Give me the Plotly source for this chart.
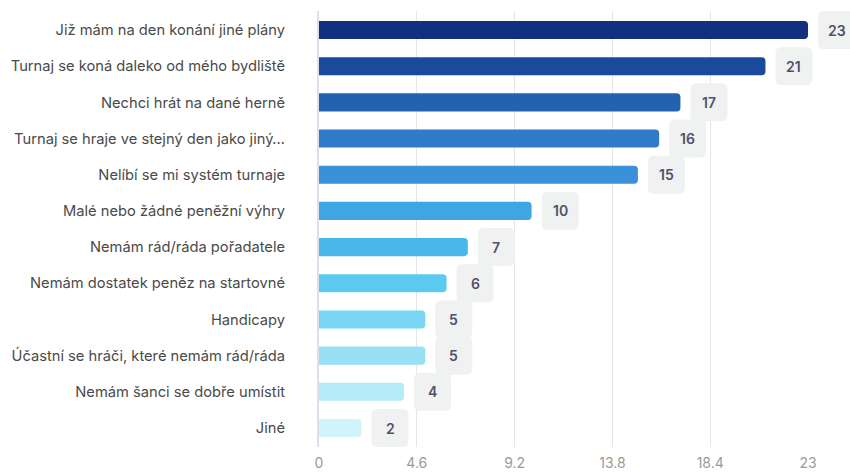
import plotly.graph_objects as go

categories = [
    "Již mám na den konání jiné plány",
    "Turnaj se koná daleko od mého bydliště",
    "Nechci hrát na dané herně",
    "Turnaj se hraje ve stejný den jako jiný…",
    "Nelíbí se mi systém turnaje",
    "Malé nebo žádné peněžní výhry",
    "Nemám rád/ráda pořadatele",
    "Nemám dostatek peněz na startovné",
    "Handicapy",
    "Účastní se hráči, které nemám rád/ráda",
    "Nemám šanci se dobře umístit",
    "Jiné",
]
values = [23, 21, 17, 16, 15, 10, 7, 6, 5, 5, 4, 2]
colors = ["#132f80", "#1a4a9c", "#2263b0", "#2f7bc8", "#3a90d9", "#3ea6e2",
          "#48b8ea", "#5ccaf0", "#78d6f2", "#98e1f5", "#b5ebf7", "#d0f3fa"]
tick_vals = [0, 4.6, 9.2, 13.8, 18.4, 23]
tick_text = ["0", "4.6", "9.2", "13.8", "18.4", "23"]
x_max = 23

fig = go.Figure()
fig.add_trace(go.Bar(
    x=values, y=categories, orientation="h",
    marker=dict(color=colors, cornerradius=4, line=dict(width=0)),
    width=0.5, hoverinfo="skip",
))

# rounded value boxes
gap, bw, bh, r = 10, 37, 38, 6
path = (f"M {gap+r},{-bh/2} L {gap+bw-r},{-bh/2} Q {gap+bw},{-bh/2} {gap+bw},{-bh/2+r} "
        f"L {gap+bw},{bh/2-r} Q {gap+bw},{bh/2} {gap+bw-r},{bh/2} "
        f"L {gap+r},{bh/2} Q {gap},{bh/2} {gap},{bh/2-r} "
        f"L {gap},{-bh/2+r} Q {gap},{-bh/2} {gap+r},{-bh/2} Z")
shapes = []
annotations = []
for c, v in zip(categories, values):
    shapes.append(dict(
        type="path", xref="paper", yref="y",
        xsizemode="pixel", ysizemode="pixel",
        xanchor=v / x_max, yanchor=c, path=path,
        fillcolor="#f0f1f1", line=dict(width=0), layer="above",
    ))
    annotations.append(dict(
        x=v / x_max, y=c, xref="paper", yref="y", text=str(v),
        showarrow=False, xshift=gap + bw / 2, xanchor="center",
        font=dict(family="Inter", size=14, color="#50506a", weight=600),
    ))

fig.update_layout(
    width=850, height=472,
    margin=dict(l=319, r=42, t=11, b=25),
    paper_bgcolor="white", plot_bgcolor="white",
    showlegend=False, bargap=0.5,
    shapes=shapes, annotations=annotations,
    font=dict(family="Inter"),
)
fig.update_xaxes(
    range=[0, x_max], tickvals=tick_vals, ticktext=tick_text,
    showgrid=True, gridcolor="#e6e6e6", gridwidth=1,
    zeroline=False, showline=False, automargin=False,
    tickfont=dict(family="Inter", size=14, color="#9a9a9a"),
    ticks="", ticklabelstandoff=6,
)
fig.update_yaxes(
    categoryorder="array", categoryarray=categories, autorange="reversed",
    showgrid=False, zeroline=False, automargin=False,
    showline=True, linecolor="#dde0ea", linewidth=2,
    tickfont=dict(family="Inter", size=14.7, color="#4a4a4a"),
    ticks="", ticklabelstandoff=29,
)

fig.write_html("out.html")
